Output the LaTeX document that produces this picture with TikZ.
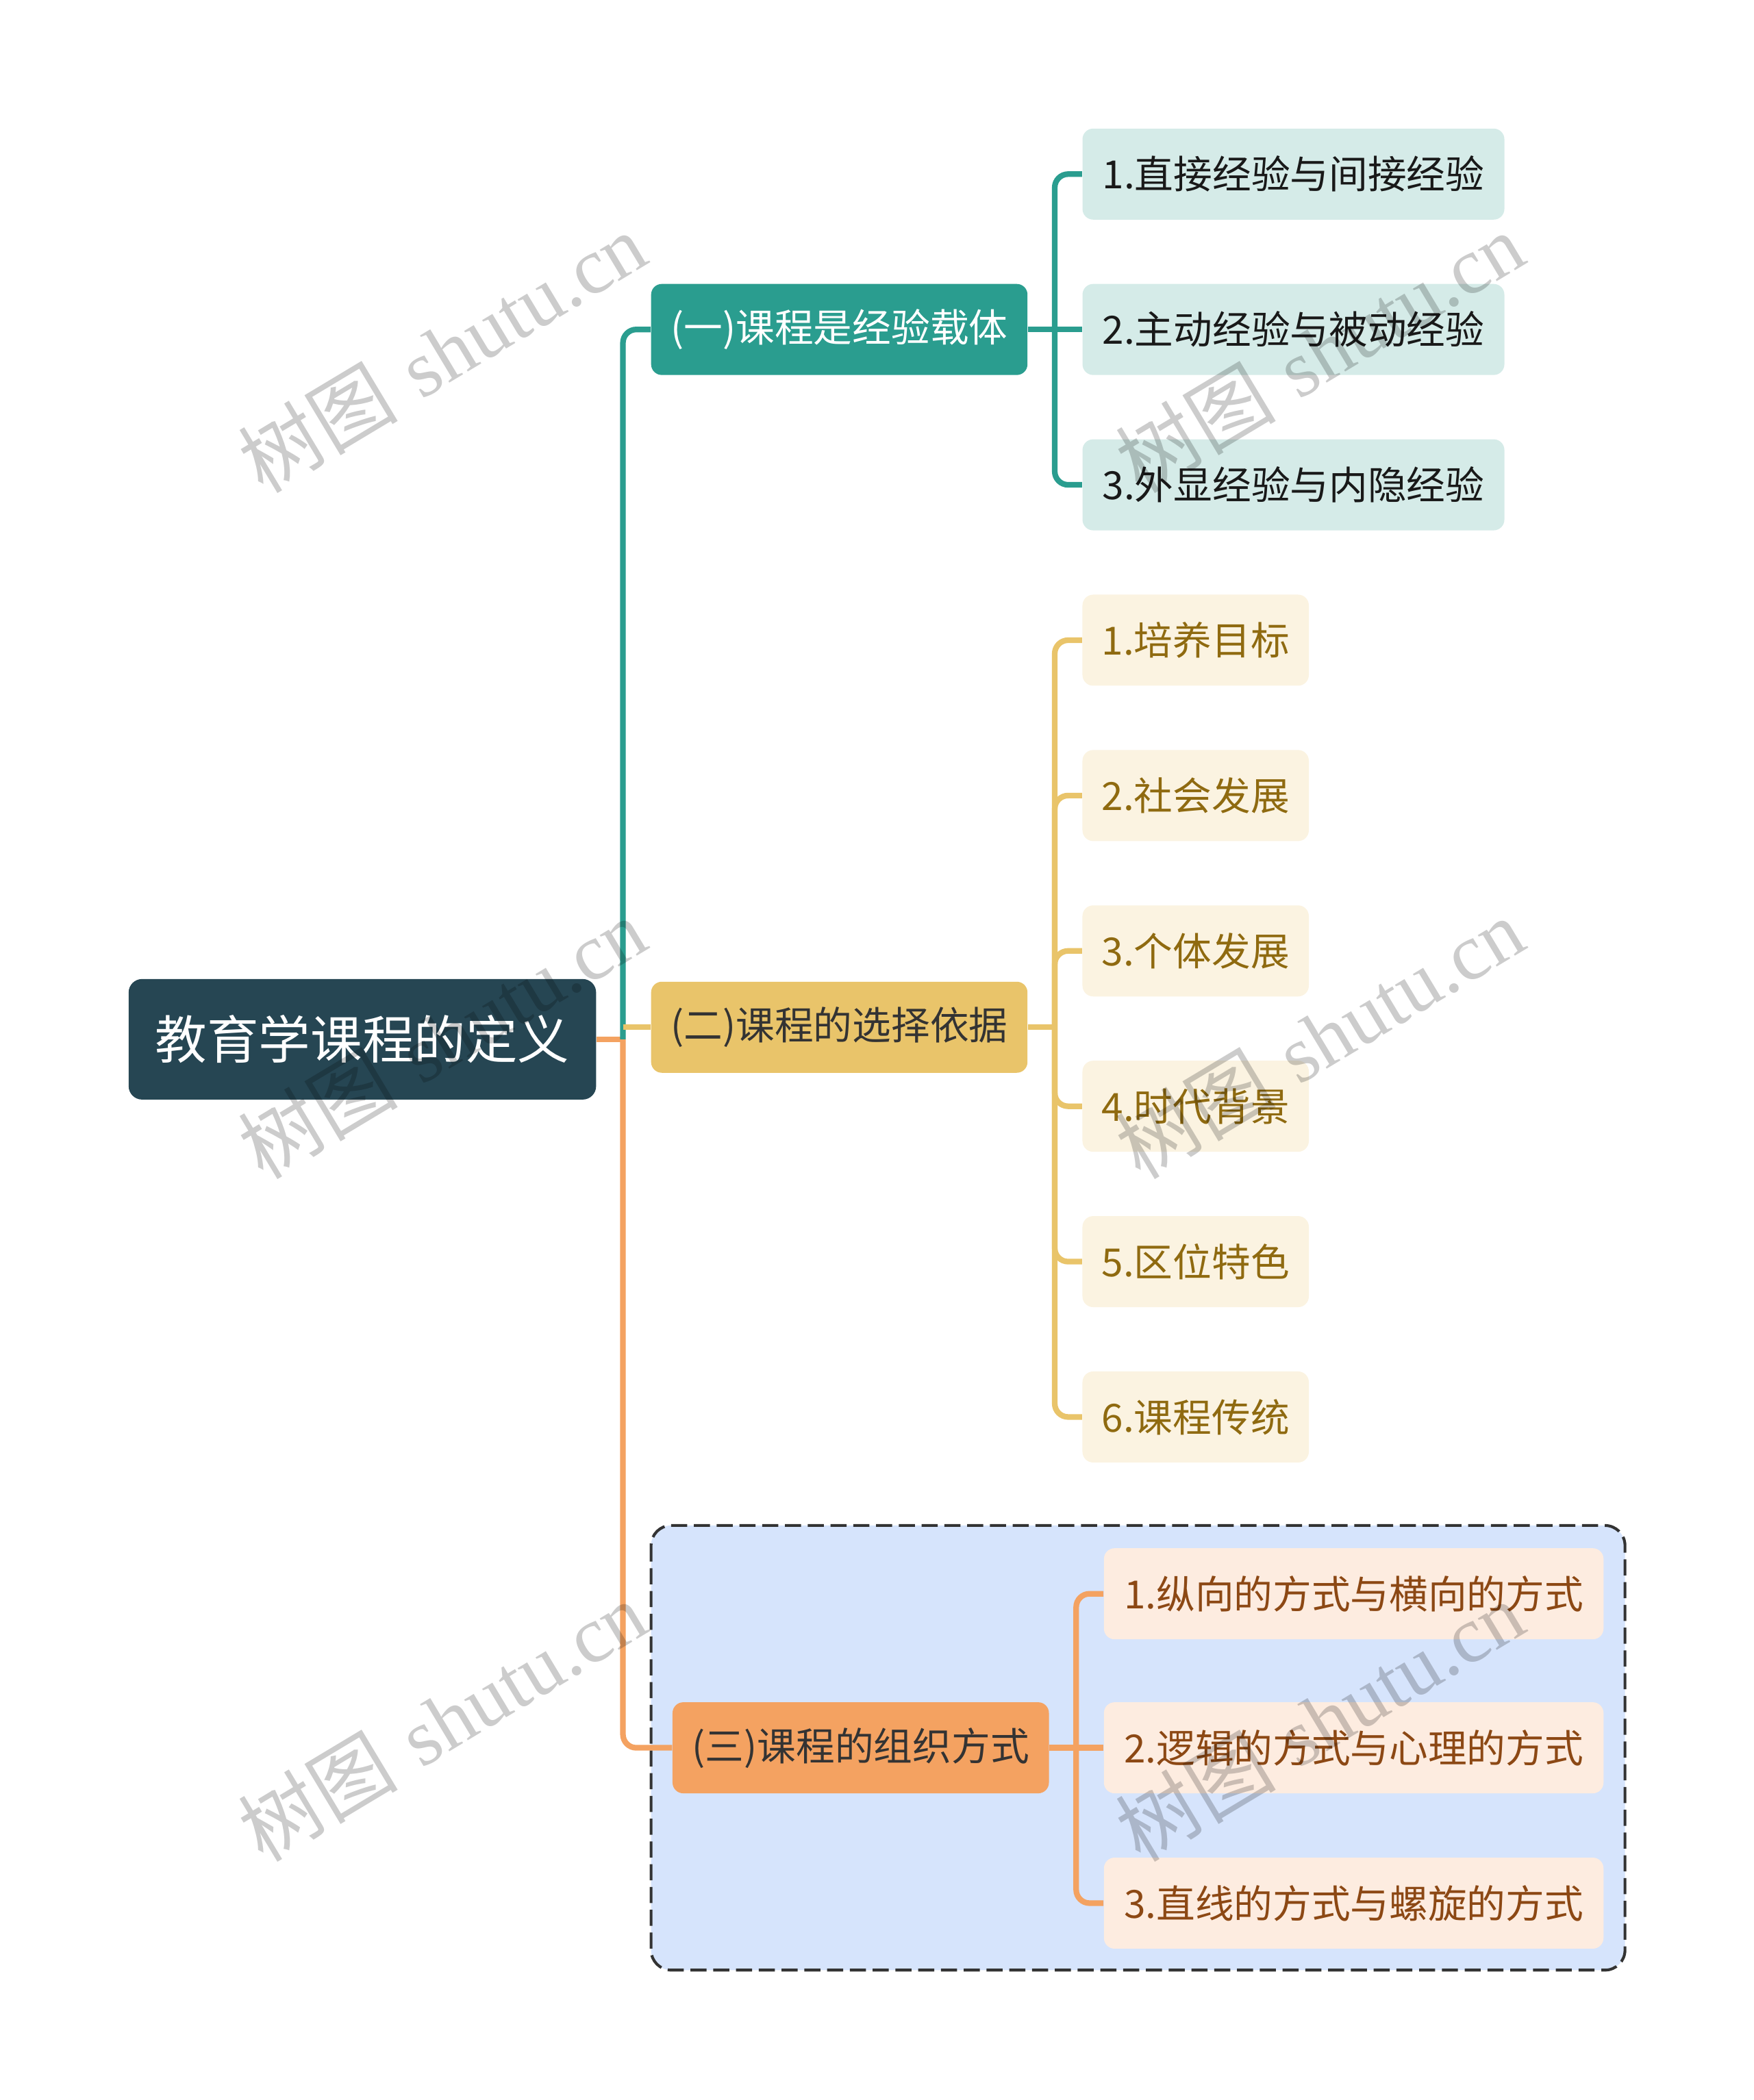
\documentclass[tikz,border=0pt]{standalone}
\usepackage{fontspec}
\newfontfamily\cjk{Noto Sans CJK SC}
\newfontfamily\wmserif{Liberation Serif}
\definecolor{rootfill}{HTML}{264653}
\definecolor{tealc}{HTML}{2A9D8F}
\definecolor{yellowc}{HTML}{E9C46A}
\definecolor{orangec}{HTML}{F4A261}
\definecolor{tealleaf}{HTML}{D5EBE8}
\definecolor{yellowleaf}{HTML}{FBF3E1}
\definecolor{orangeleaf}{HTML}{FDECE0}
\definecolor{groupfill}{HTML}{D6E4FC}
\definecolor{groupline}{HTML}{333333}
\definecolor{yellowtext}{HTML}{8F6A10}
\definecolor{orangetext}{HTML}{8C4814}
\begin{document}
\begin{tikzpicture}[x=0.02cm,y=-0.02cm,
  box/.style={rounded corners=0.16cm,inner sep=0pt,minimum height=1.36cm,
    font=\cjk\fontsize{16.5}{20}\selectfont},
  branch/.style={box,minimum width=5.62cm},
  link/.style={line width=2.4pt,rounded corners=0.2cm},
  wmark/.style={rotate=31,text=black,text opacity=0.2,font=\fontsize{34}{40}\selectfont}]
\useasboundingbox (0,0) rectangle (1309,1568);
% group frame behind the third branch
\draw[groupline,line width=1.2pt,dash pattern=on 0.24cm off 0.1cm,fill=groupfill,rounded corners=0.3cm]
  (486,1139) rectangle (1213,1471);
% root and branches
\node[rounded corners=0.2cm,fill=rootfill,text=white,minimum width=6.98cm,minimum height=1.8cm,
  font=\cjk\fontsize{22}{26}\selectfont] (root) at (270.5,776) {教育学课程的定义};
\node[branch,fill=tealc,text=white] (b1) at (626.5,246) {(一)课程是经验载体};
\node[branch,fill=yellowc,text=black!80] (b2) at (626.5,767) {(二)课程的选择依据};
\node[branch,fill=orangec,text=black!80] (b3) at (642.5,1305) {(三)课程的组织方式};
% leaves
\node[box,minimum width=6.3cm,fill=tealleaf,text=black!90] (l11) at (965.5,130) {1.直接经验与间接经验};
\node[box,minimum width=6.3cm,fill=tealleaf,text=black!90] (l12) at (965.5,246) {2.主动经验与被动经验};
\node[box,minimum width=6.3cm,fill=tealleaf,text=black!90] (l13) at (965.5,362) {3.外显经验与内隐经验};
\node[box,minimum width=3.38cm,fill=yellowleaf,text=yellowtext] (l21) at (892.5,478) {1.培养目标};
\node[box,minimum width=3.38cm,fill=yellowleaf,text=yellowtext] (l22) at (892.5,594) {2.社会发展};
\node[box,minimum width=3.38cm,fill=yellowleaf,text=yellowtext] (l23) at (892.5,710) {3.个体发展};
\node[box,minimum width=3.38cm,fill=yellowleaf,text=yellowtext] (l24) at (892.5,826) {4.时代背景};
\node[box,minimum width=3.38cm,fill=yellowleaf,text=yellowtext] (l25) at (892.5,942) {5.区位特色};
\node[box,minimum width=3.38cm,fill=yellowleaf,text=yellowtext] (l26) at (892.5,1058) {6.课程传统};
\node[box,minimum width=7.46cm,fill=orangeleaf,text=orangetext] (l31) at (1010.5,1190) {1.纵向的方式与横向的方式};
\node[box,minimum width=7.46cm,fill=orangeleaf,text=orangetext] (l32) at (1010.5,1305) {2.逻辑的方式与心理的方式};
\node[box,minimum width=7.46cm,fill=orangeleaf,text=orangetext] (l33) at (1010.5,1421) {3.直线的方式与螺旋的方式};
% root to branches
\coordinate (t0) at (465,776);
\draw[link,orangec] (root.east) -- (t0);
\draw[link,orangec] (t0) |- (b3.west);
\draw[link,tealc] (t0) |- (b1.west);
\draw[link,yellowc] (t0 |- b2.west) -- (b2.west);
% branch 1
\draw[link,tealc] (b1.east) -- ++(20,0) coordinate (t1);
\draw[link,tealc] (t1) |- (l11.west);
\draw[link,tealc] (t1) -- (l12.west);
\draw[link,tealc] (t1) |- (l13.west);
% branch 2
\draw[link,yellowc] (b2.east) -- ++(20,0) coordinate (t2);
\foreach \k in {1,...,6}
  \draw[link,yellowc] (t2) |- (l2\k.west);
% branch 3
\draw[link,orangec] (b3.east) -- ++(20,0) coordinate (t3);
\draw[link,orangec] (t3) |- (l31.west);
\draw[link,orangec] (t3) -- (l32.west);
\draw[link,orangec] (t3) |- (l33.west);
% watermarks
\node[wmark] (wm1) at (330,263) {{\cjk 树图} {\wmserif shutu.cn}};
\node[wmark] (wm2) at (985,263) {{\cjk 树图} {\wmserif shutu.cn}};
\node[wmark] (wm3) at (330,775) {{\cjk 树图} {\wmserif shutu.cn}};
\node[wmark] (wm4) at (985,775) {{\cjk 树图} {\wmserif shutu.cn}};
\node[wmark] (wm5) at (330,1285) {{\cjk 树图} {\wmserif shutu.cn}};
\node[wmark] (wm6) at (985,1285) {{\cjk 树图} {\wmserif shutu.cn}};
\end{tikzpicture}
\end{document}
